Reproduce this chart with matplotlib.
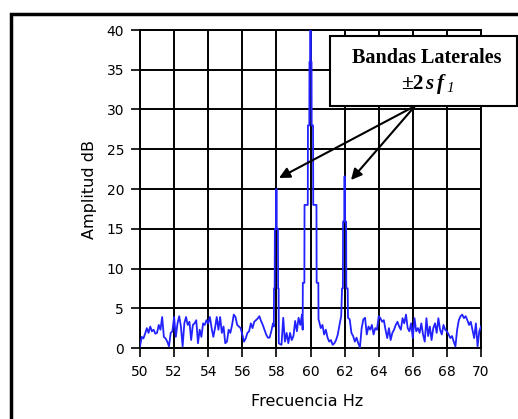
import matplotlib
matplotlib.use("Agg")
import matplotlib.pyplot as plt
from matplotlib.patches import Rectangle
import numpy as np

# noise floor on a 0.1 Hz grid from 50 to 70 Hz (None = inside a peak)
ruido_db = [
    0.2, 1.4, 1.2, 1.8, 2.5, 1.9, 2.7, 2.1, 2.3, 1.8,
    1.9, 2.9, 2.3, 3.9, 1.4, 1.2, 0.8, 0.2, 1.9, 2.1,
    3.9, 1.4, 3.1, 4.0, 2.7, 0.2, 3.1, 3.9, 2.9, 3.3,
    1.0, 2.9, 3.1, 3.5, 0.6, 2.3, 1.4, 3.1, 2.9, 3.5,
    3.1, 3.9, 2.5, 1.4, 2.5, 3.9, 2.3, 3.9, 1.9, 2.7,
    0.6, 0.8, 2.3, 1.9, 2.9, 4.2, 3.9, 2.9, 2.7, 2.5,
    1.7, 0.8, 1.2, 1.9, 2.1, 3.1, 2.5, 3.3, 3.5,
    3.7, 4.0, 3.4, 2.9, 2.3, 1.7, 1.3, 1.3, 2.1, 3.1,
    None, None, None, None,
    0.4, 3.8, 0.8, 1.9, 0.6, 1.9, 1.0, 1.5, 3.4, 2.1, 3.8, 2.9, 4.2,
    None, None, None, None, None, None, None, None, None,
    3.4, 2.5, 2.9, 1.7, 2.3, 1.3, 0.8, 1.0, 0.4, 0.6, 1.0, 1.7, 2.9, 4.0,
    None, None, None, None,
    3.6, 1.9, 1.5, 0.8, 1.3, 0.6, 0.1, 2.5, 3.6, 3.8,
    1.7, 2.7, 2.3, 2.9, 1.7, 2.5, 2.3, 4.0, 3.75, 3.3,
    3.5, 2.3, 1.25, 2.5, 1.0, 1.9, 2.3, 2.9, 3.3, 2.7,
    2.3, 3.75, 3.1, 4.2, 2.5, 2.1, 3.1, 1.25, 3.75, 2.1,
    2.5, 1.9, 3.1, 1.7, 0.8, 3.75, 1.5, 2.7, 1.0, 2.5,
    3.1, 1.9, 3.75, 2.3, 1.7, 2.9, 2.3, 2.1, 1.7, 1.25,
    1.5, 0.8, 0.2, 2.3, 3.5, 4.0, 4.2, 3.75, 4.0, 3.5,
    2.9, 3.3, 2.3, 1.25, 3.1, 0.2, 2.1, 2.7,
]

# lower sideband (58 Hz)
pico58_f = [57.85, 57.86, 57.90, 57.91, 57.98, 58.00, 58.02, 58.09, 58.10, 58.13, 58.14, 58.20]
pico58_db = [2.7, 7.5, 7.5, 15.0, 15.0, 20.0, 15.0, 15.0, 7.5, 7.5, 0.6, 0.5]

# main line (60 Hz)
pico60_f = [59.54, 59.55, 59.64, 59.65, 59.84, 59.85, 59.93, 59.94, 59.98, 60.00,
            60.02, 60.06, 60.07, 60.15, 60.16, 60.35, 60.36, 60.46, 60.47]
pico60_db = [2.3, 8.2, 8.2, 18.0, 18.0, 28.0, 28.0, 36.0, 36.0, 42.0,
             36.0, 36.0, 28.0, 28.0, 18.0, 18.0, 8.2, 8.2, 3.6]

# upper sideband (62 Hz)
pico62_f = [61.85, 61.90, 61.91, 61.98, 62.00, 62.02, 62.09, 62.10, 62.18, 62.20]
pico62_db = [7.5, 7.5, 15.9, 15.9, 21.6, 15.9, 15.9, 7.5, 7.5, 3.8]

x_ticks = [50, 52, 54, 56, 58, 60, 62, 64, 66, 68, 70]
y_ticks = [0, 5, 10, 15, 20, 25, 30, 35, 40]

# put everything together, sorted by frequency
grid_f = np.linspace(50, 70, len(ruido_db))
pts = [(f, a) for f, a in zip(grid_f, ruido_db) if a is not None]
pts += list(zip(pico58_f, pico58_db)) + list(zip(pico60_f, pico60_db)) + list(zip(pico62_f, pico62_db))
pts.sort(key=lambda p: p[0])
freq = np.array([p[0] for p in pts])
amp = np.array([p[1] for p in pts])

W, H = 518, 419
fig = plt.figure(figsize=(W / 100, H / 100), dpi=100)
fig.patch.set_facecolor('white')
ax = fig.add_axes([140 / W, 1 - 348 / H, 341 / W, 318 / H])

ax.plot(freq, amp, color='#2222ff', lw=1.3, zorder=3)
ax.set_xlim(50, 70)
ax.set_ylim(0, 40)
ax.set_xticks(x_ticks)
ax.set_yticks(y_ticks)
ax.grid(True, color='black', lw=1.4, zorder=1)
ax.set_axisbelow(True)
for s in ax.spines.values():
    s.set_linewidth(1.4)
ax.tick_params(axis='both', direction='out', length=6.5, width=1.2, labelsize=10)
ax.tick_params(axis='y', pad=5)
ax.tick_params(axis='x', pad=6)

ax.set_xlabel('Frecuencia Hz', fontsize=11.5)
ax.set_ylabel('Amplitud dB', fontsize=11.5)
ax.xaxis.set_label_coords(0.49, -0.145)
ax.yaxis.set_label_coords(-0.125, 0.5)

# outer frame (cut off at right and bottom)
fig.patches.append(Rectangle((11 / W, -0.1), 1.2, 1.1 - 14 / H, transform=fig.transFigure,
                             fill=False, lw=2.5, edgecolor='black', clip_on=False))

# callout box
fig.patches.append(Rectangle((330 / W, 1 - 106 / H), 187 / W, 70 / H, transform=fig.transFigure,
                             facecolor='white', edgecolor='black', lw=1.5, zorder=4))
serif = 'Liberation Serif'
fig.text(427 / W, 1 - 58 / H, 'Bandas Laterales', ha='center', va='center',
         fontsize=14.5, fontweight='bold', family=serif, zorder=5)
y2 = 1 - 84 / H
fig.text(424 / W, y2, '\u00b12', ha='right', va='center', fontsize=15.5,
         fontweight='bold', family=serif, zorder=5)
fig.text(425 / W, y2, 's', ha='left', va='center', fontsize=15,
         fontweight='bold', style='italic', family=serif, zorder=5)
fig.text(437 / W, y2, 'f', ha='left', va='center', fontsize=15,
         fontweight='bold', style='italic', family=serif, zorder=5)
fig.text(446 / W, 1 - 88 / H, '1', ha='left', va='center', fontsize=11,
         style='italic', family=serif, zorder=5)

for tip in [(279, H - 178), (351, H - 180)]:
    ax.annotate('', xy=tip, xycoords='figure pixels', xytext=(415, H - 106),
                textcoords='figure pixels', annotation_clip=False,
                arrowprops=dict(arrowstyle='-|>', color='black', lw=1.5,
                                mutation_scale=16, shrinkA=0, shrinkB=0), zorder=6)

fig.savefig('out.png', dpi=100)
